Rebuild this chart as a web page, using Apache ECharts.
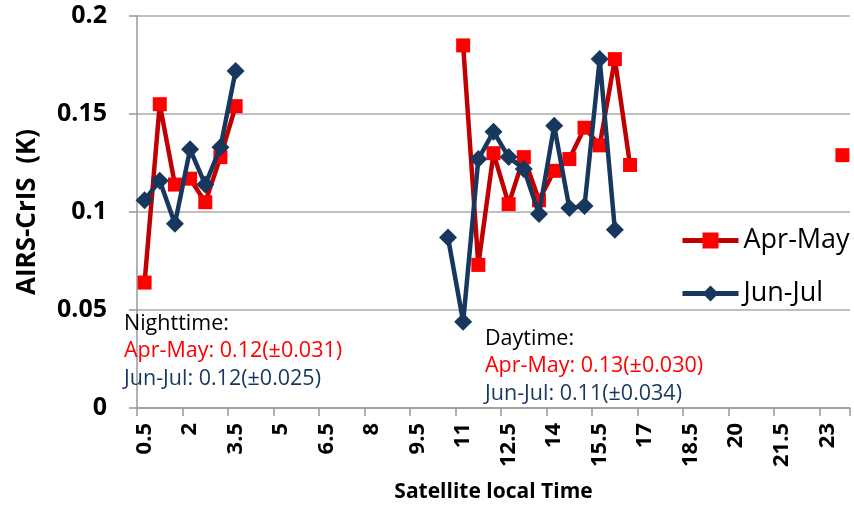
<!DOCTYPE html>
<html><head><meta charset="utf-8">
<script src="https://cdn.jsdelivr.net/npm/echarts@6/dist/echarts.min.js"></script>
<style>html,body{margin:0;padding:0;background:#fff}#c{width:854px;height:510px}</style>
</head><body><div id="c"></div>
<script>
const categories = ['0.5','1','1.5','2','2.5','3','3.5','4','4.5','5','5.5','6','6.5','7','7.5','8','8.5','9','9.5','10','10.5','11','11.5','12','12.5','13','13.5','14','14.5','15','15.5','16','16.5','17','17.5','18','18.5','19','19.5','20','20.5','21','21.5','22','22.5','23','23.5'];
const aprMay = [0.064,0.155,0.114,0.117,0.105,0.128,0.154,null,null,null,null,null,null,null,null,null,null,null,null,null,null,0.185,0.073,0.130,0.104,0.128,0.106,0.121,0.127,0.143,0.134,0.178,0.124,null,null,null,null,null,null,null,null,null,null,null,null,null,0.129];
const junJul = [0.106,0.116,0.094,0.132,0.114,0.133,0.172,null,null,null,null,null,null,null,null,null,null,null,null,null,0.087,0.044,0.127,0.141,0.128,0.122,0.099,0.144,0.102,0.103,0.178,0.091,null,null,null,null,null,null,null,null,null,null,null,null,null,null,null];
const seriesNames = ['Apr-May','Jun-Jul'];
const yTicks = {min:0,max:0.2,interval:0.05};
const notes = {
  night:['Nighttime:','Apr-May: 0.12(±0.031)','Jun-Jul: 0.12(±0.025)'],
  day:['Daytime:','Apr-May: 0.13(±0.030)','Jun-Jul: 0.11(±0.034)']
};
const FONT = '"Open Sans"';
const chart = echarts.init(document.getElementById('c'));
const noteStyle = (txt, color, x, y) => ({type:'text', left:x, top:y, z:100, style:{text:txt, fill:color, font:'21.5px '+FONT}});
chart.setOption({
  animation:false,
  backgroundColor:'#fff',
  grid:{left:137,right:4,top:16,bottom:102,containLabel:false},
  xAxis:{type:'category',data:categories,boundaryGap:true,
    name:'Satellite local Time',nameLocation:'middle',nameGap:74,
    nameTextStyle:{fontFamily:FONT,fontWeight:'bold',fontSize:21,color:'#000'},
    axisLine:{lineStyle:{color:'#999',width:1.5}},
    axisTick:{show:true,interval:2,length:8,lineStyle:{color:'#999',width:1.5}},
    axisLabel:{interval:2,rotate:90,margin:15,fontFamily:FONT,fontWeight:'bold',fontSize:22,color:'#000'},
    splitLine:{show:false}},
  yAxis:{type:'value',min:yTicks.min,max:yTicks.max,interval:yTicks.interval,
    name:'AIRS-CrIS  (K)',nameLocation:'middle',nameGap:96,
    nameTextStyle:{fontFamily:FONT,fontWeight:'bold',fontSize:26,color:'#000'},
    axisLine:{show:true,lineStyle:{color:'#999',width:1.5}},
    axisTick:{show:true,length:8,lineStyle:{color:'#999',width:1.5}},
    axisLabel:{margin:30,fontFamily:FONT,fontWeight:'bold',fontSize:25,color:'#000'},
    splitLine:{show:true,lineStyle:{color:'#aaa',width:1.5}}},
  legend:{orient:'vertical',left:680,top:227,itemGap:26,itemWidth:56,itemHeight:20,
    padding:0,
    lineStyle:{width:5},
    textStyle:{fontFamily:FONT,fontSize:27,color:'#000'},
    data:seriesNames},
  series:[
    {name:seriesNames[0],type:'line',data:aprMay,connectNulls:false,showAllSymbol:true,symbol:'rect',symbolSize:14,
     lineStyle:{color:'#C00000',width:4.5},itemStyle:{color:'#FF0000'},z:2},
    {name:seriesNames[1],type:'line',data:junJul,connectNulls:false,showAllSymbol:true,symbol:'diamond',symbolSize:18,
     lineStyle:{color:'#17375E',width:4.5},itemStyle:{color:'#17375E'},z:3}
  ],
  graphic:[
    noteStyle(notes.night[0],'#000',124,313),
    noteStyle(notes.night[1],'#FF0000',124,340),
    noteStyle(notes.night[2],'#17375E',124,368),
    noteStyle(notes.day[0],'#000',485,328),
    noteStyle(notes.day[1],'#FF0000',485,355),
    noteStyle(notes.day[2],'#17375E',485,383)
  ]
});
</script></body></html>
